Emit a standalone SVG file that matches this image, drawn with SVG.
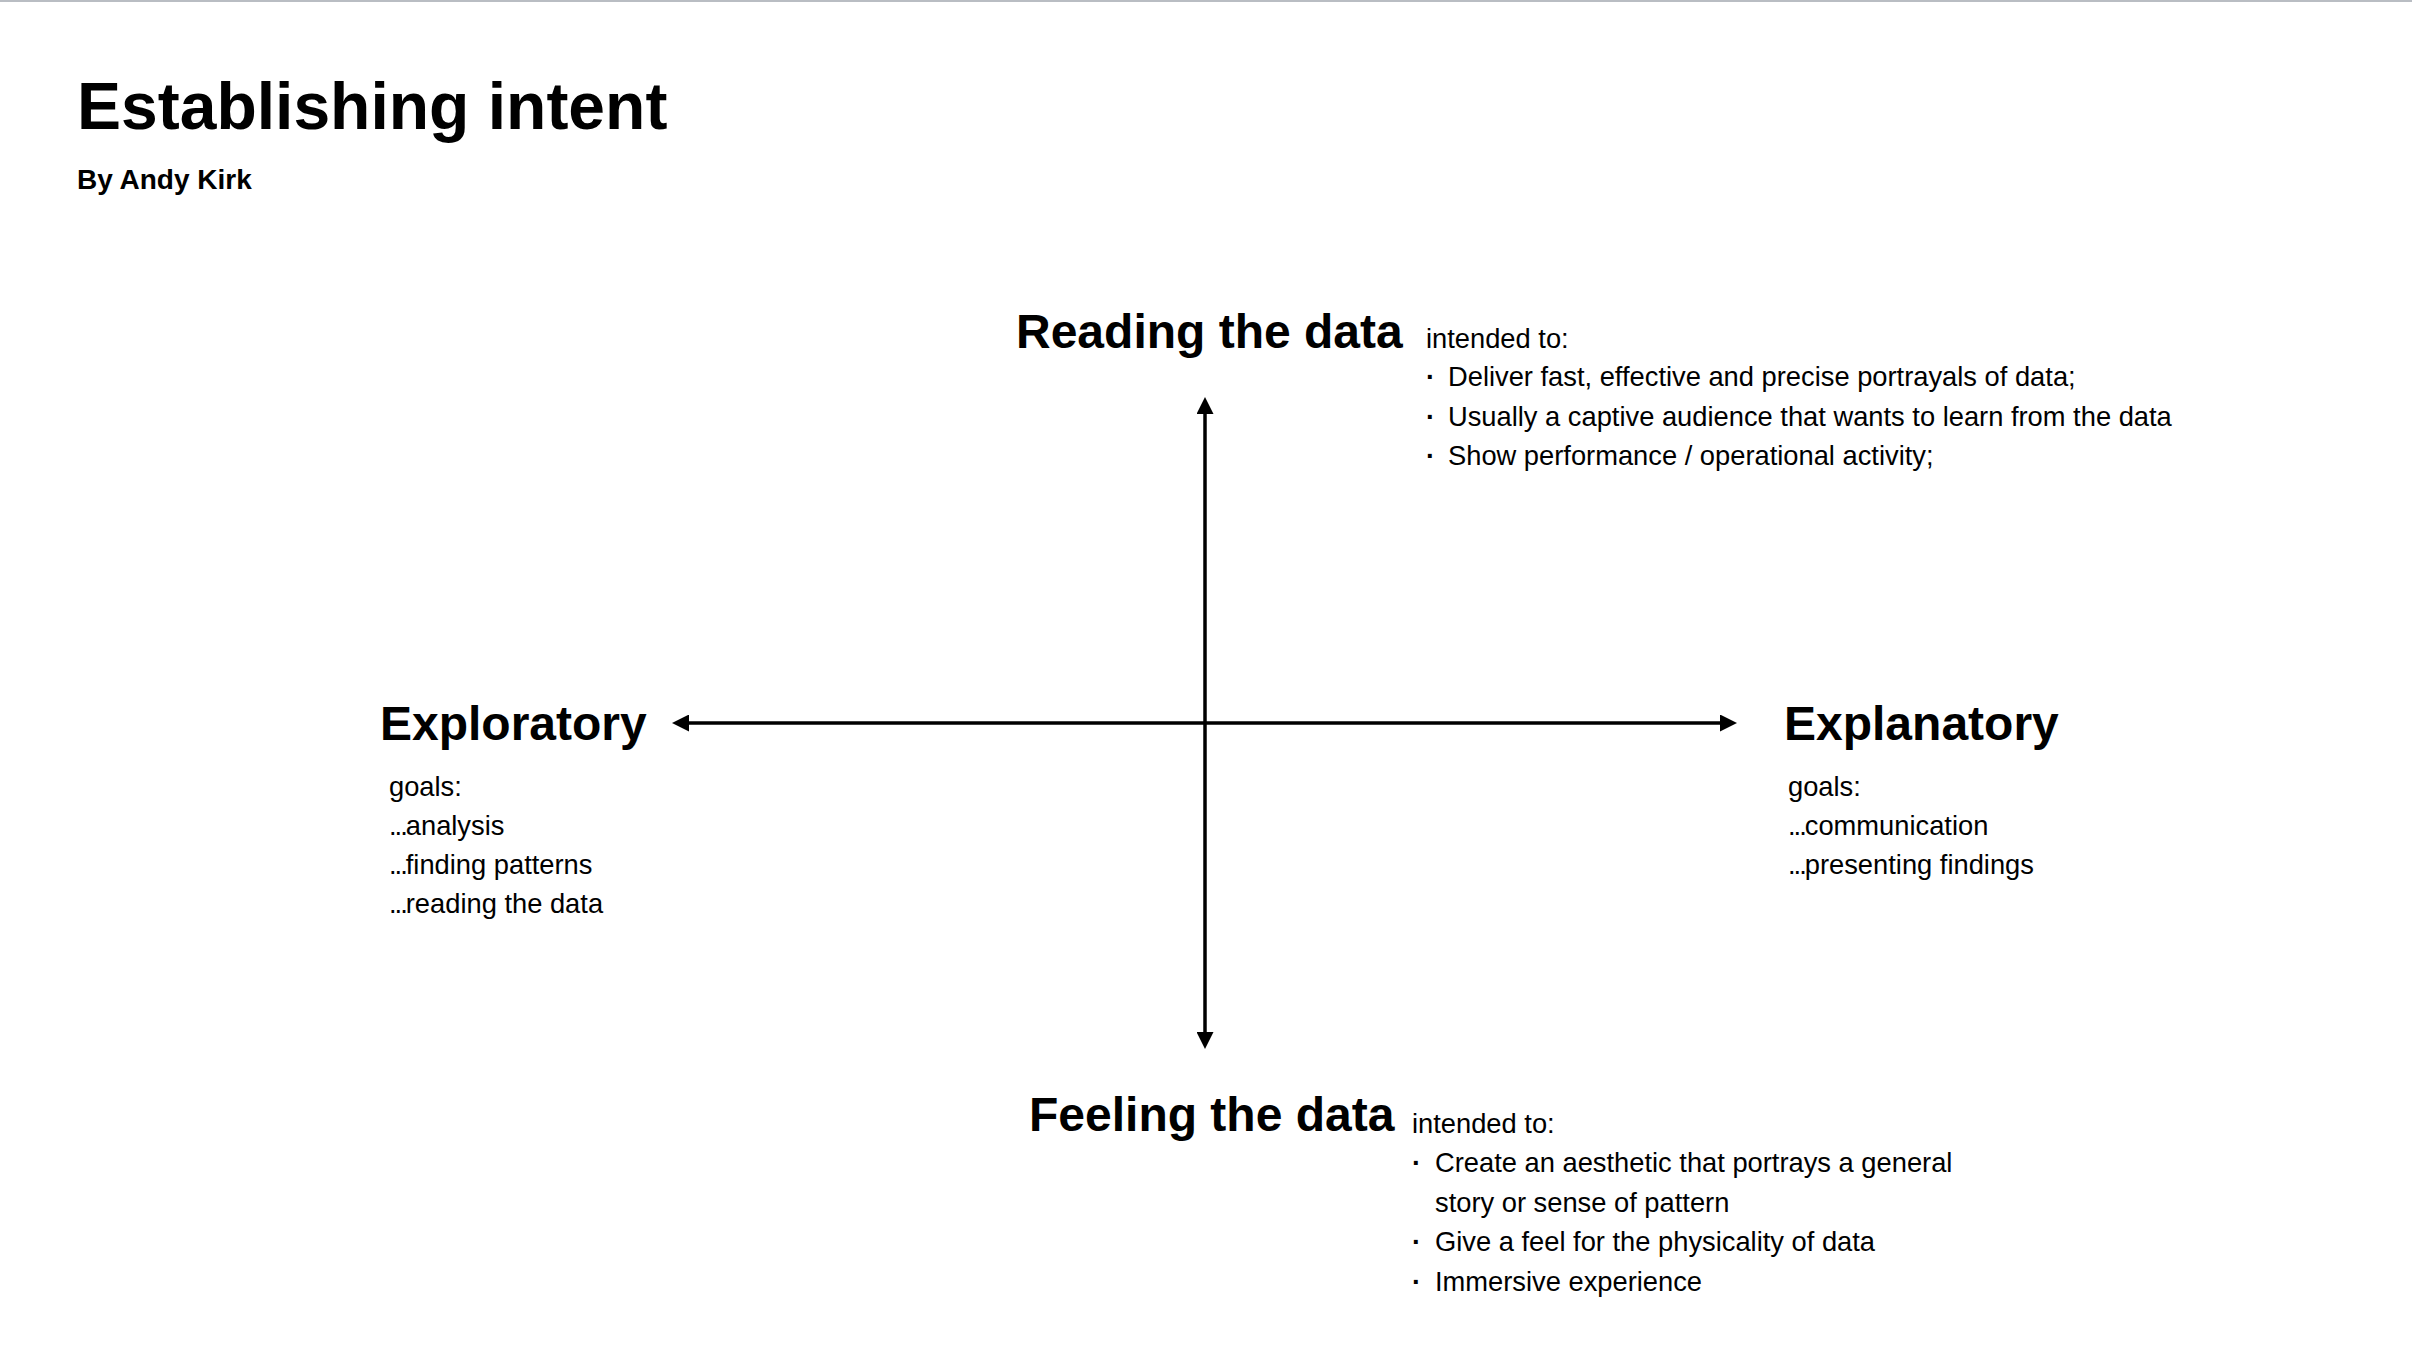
<svg xmlns="http://www.w3.org/2000/svg" width="2412" height="1358" viewBox="0 0 2412 1358">
  <style>
    text { font-family: "Liberation Sans", Arial, sans-serif; fill: #000; }
    .title { font-size: 66px; font-weight: bold; }
    .sub { font-size: 28px; font-weight: bold; }
    .head { font-size: 48px; font-weight: bold; }
    .body { font-size: 27.3px; }
    .dot { font-size: 27.3px; font-weight: bold; }
    .ell { letter-spacing: -2px; }
    .axis { stroke: #000; stroke-width: 3.5; fill: none; }
  </style>
  <defs>
    <marker id="arrow" markerUnits="userSpaceOnUse" markerWidth="17" markerHeight="17" refX="0" refY="8.5" orient="auto-start-reverse" viewBox="0 0 17 17">
      <path d="M0,0 L17,8.5 L0,17 z" fill="#000"/>
    </marker>
  </defs>
  <rect x="0" y="0" width="2412" height="1358" fill="#fff"/>
  <rect x="0" y="0" width="2412" height="2" fill="#b9bdc3"/>

  <g id="header">
    <text class="title" x="77" y="129">Establishing intent</text>
    <text class="sub" x="77" y="189">By Andy Kirk</text>
  </g>

  <g id="connectors">
    <line class="axis" x1="1205" y1="414" x2="1205" y2="1032" marker-start="url(#arrow)" marker-end="url(#arrow)"/>
    <line class="axis" x1="689" y1="723" x2="1720" y2="723" marker-start="url(#arrow)" marker-end="url(#arrow)"/>
  </g>

  <g id="reading">
    <text class="head" x="1016" y="348">Reading the data</text>
    <text class="body" x="1426" y="348">intended to:</text>
    <text class="dot" x="1426" y="386">·</text>
    <text class="body" x="1448" y="386">Deliver fast, effective and precise portrayals of data;</text>
    <text class="dot" x="1426" y="426">·</text>
    <text class="body" x="1448" y="426">Usually a captive audience that wants to learn from the data</text>
    <text class="dot" x="1426" y="465">·</text>
    <text class="body" x="1448" y="465">Show performance / operational activity;</text>
  </g>

  <g id="exploratory">
    <text class="head" x="380" y="740">Exploratory</text>
    <text class="body" x="389" y="796">goals:</text>
    <text class="body" x="389" y="835"><tspan class="ell">...</tspan>analysis</text>
    <text class="body" x="389" y="874"><tspan class="ell">...</tspan>finding patterns</text>
    <text class="body" x="389" y="913"><tspan class="ell">...</tspan>reading the data</text>
  </g>

  <g id="explanatory">
    <text class="head" x="1784" y="740">Explanatory</text>
    <text class="body" x="1788" y="796">goals:</text>
    <text class="body" x="1788" y="835"><tspan class="ell">...</tspan>communication</text>
    <text class="body" x="1788" y="874"><tspan class="ell">...</tspan>presenting findings</text>
  </g>

  <g id="feeling">
    <text class="head" x="1029" y="1131">Feeling the data</text>
    <text class="body" x="1412" y="1133">intended to:</text>
    <text class="dot" x="1412" y="1172">·</text>
    <text class="body" x="1435" y="1172">Create an aesthetic that portrays a general</text>
    <text class="body" x="1435" y="1212">story or sense of pattern</text>
    <text class="dot" x="1412" y="1251">·</text>
    <text class="body" x="1435" y="1251">Give a feel for the physicality of data</text>
    <text class="dot" x="1412" y="1291">·</text>
    <text class="body" x="1435" y="1291">Immersive experience</text>
  </g>
</svg>
